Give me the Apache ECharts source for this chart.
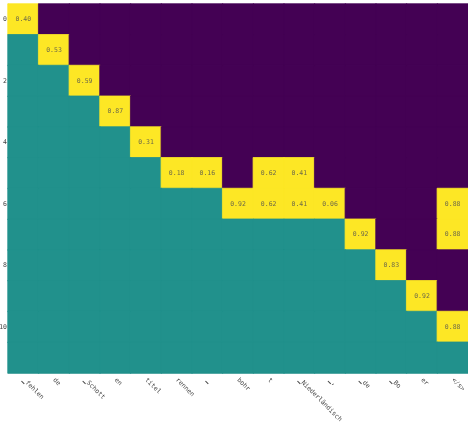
<!DOCTYPE html>
<html>
<head>
<meta charset="utf-8">
<script src="https://cdn.jsdelivr.net/npm/echarts@6/dist/echarts.min.js"></script>
<style>html,body{margin:0;padding:0;background:#fff;}#chart{width:468px;height:424px;}</style>
</head>
<body>
<div id="chart"></div>
<script>
// Source tokens along the x axis
const tokens = ['▁fehlen', 'de', '▁Schott', 'en', 'titel', 'rennen', '▁', 'bohr', 't',
  '▁Niederländisch', '▁,', '▁de', '▁Bo', 'er', '</s>'];
// Target steps along the y axis
const steps = [0, 1, 2, 3, 4, 5, 6, 7, 8, 9, 10, 11];
// Cell state per step: 0 = masked, 1 = seen, 2 = selected
const cellState = [
  [2,0,0,0,0,0,0,0,0,0,0,0,0,0,0],
  [1,2,0,0,0,0,0,0,0,0,0,0,0,0,0],
  [1,1,2,0,0,0,0,0,0,0,0,0,0,0,0],
  [1,1,1,2,0,0,0,0,0,0,0,0,0,0,0],
  [1,1,1,1,2,0,0,0,0,0,0,0,0,0,0],
  [1,1,1,1,1,2,2,0,2,2,0,0,0,0,0],
  [1,1,1,1,1,1,1,2,2,2,2,0,0,0,2],
  [1,1,1,1,1,1,1,1,1,1,1,2,0,0,2],
  [1,1,1,1,1,1,1,1,1,1,1,1,2,0,0],
  [1,1,1,1,1,1,1,1,1,1,1,1,1,2,0],
  [1,1,1,1,1,1,1,1,1,1,1,1,1,1,2],
  [1,1,1,1,1,1,1,1,1,1,1,1,1,1,1]
];
// Scores on the selected cells: [step, token index, score]
const scores = [
  [0, 0, 0.40], [1, 1, 0.53], [2, 2, 0.59], [3, 3, 0.87], [4, 4, 0.31],
  [5, 5, 0.18], [5, 6, 0.16], [5, 8, 0.62], [5, 9, 0.41],
  [6, 7, 0.92], [6, 8, 0.62], [6, 9, 0.41], [6, 10, 0.06], [6, 14, 0.88],
  [7, 11, 0.92], [7, 14, 0.88], [8, 12, 0.83], [9, 13, 0.92], [10, 14, 0.88]
];
// Viridis colours for the three states
const stateColors = ['#440154', '#21918c', '#fde725'];

const scoreAt = {};
scores.forEach(([r, c, v]) => { scoreAt[r + ',' + c] = v; });

const data = [];
cellState.forEach((row, r) => {
  row.forEach((s, c) => {
    const key = r + ',' + c;
    const col = stateColors[s];
    data.push({
      value: [c, r, s, key in scoreAt ? scoreAt[key] : null],
      // a border in the fill colour closes the hairline seams between cells
      itemStyle: { color: col, borderColor: col, borderWidth: 0.8 }
    });
  });
});

const mono = 'DejaVu Sans Mono';
const chart = echarts.init(document.getElementById('chart'));
chart.setOption({
  animation: false,
  backgroundColor: '#fff',
  grid: { left: 8, right: 0, top: 4, bottom: 51, outerBoundsMode: 'none', containLabel: false },
  xAxis: {
    type: 'category',
    data: tokens,
    axisLine: { show: true, lineStyle: { color: '#cfe0df', width: 1 } },
    axisTick: { show: false },
    splitLine: { show: false },
    splitArea: { show: false },
    axisLabel: { interval: 0, rotate: -45, fontFamily: mono, fontSize: 6.5, color: '#444', margin: 6 }
  },
  yAxis: {
    type: 'category',
    data: steps,
    inverse: true,
    axisLine: { show: true, lineStyle: { color: '#cfe0df', width: 1 } },
    axisTick: { show: false },
    splitLine: { show: false },
    splitArea: { show: false },
    axisLabel: { interval: 1, fontFamily: mono, fontSize: 6.5, color: '#444', margin: 1 }
  },
  series: [{
    type: 'heatmap',
    data: data,
    label: {
      show: true,
      fontFamily: mono,
      fontSize: 6.5,
      color: '#6e6a4a',
      formatter: p => p.value[3] == null ? '' : p.value[3].toFixed(2)
    },
    emphasis: { disabled: true }
  }]
});
</script>
</body>
</html>
